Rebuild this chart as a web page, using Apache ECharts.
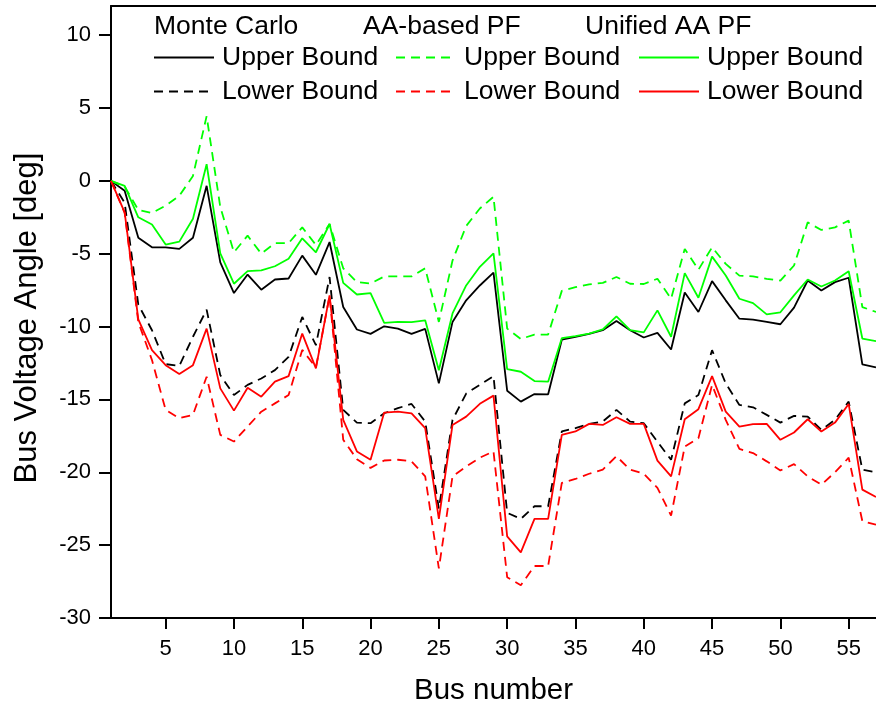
<!DOCTYPE html>
<html>
<head>
<meta charset="utf-8">
<script src="https://cdn.jsdelivr.net/npm/echarts@6/dist/echarts.min.js"></script>
<style>html,body{margin:0;padding:0;background:#fff}#c{width:876px;height:711px}</style>
</head>
<body>
<div id="c"></div>
<script>
const buses = [1,2,3,4,5,6,7,8,9,10,11,12,13,14,15,16,17,18,19,20,21,22,23,24,25,26,27,28,29,30,31,32,33,34,35,36,37,38,39,40,41,42,43,44,45,46,47,48,49,50,51,52,53,54,55,56,57];
const xTicks = [5,10,15,20,25,30,35,40,45,50,55];
const yTicks = [-30,-25,-20,-15,-10,-5,0,5,10];

const mcUpper = [0,-0.68,-3.9,-4.56,-4.56,-4.67,-3.9,-0.34,-5.6,-7.7,-6.43,-7.47,-6.77,-6.7,-5.13,-6.45,-4.2,-8.66,-10.2,-10.5,-9.98,-10.14,-10.5,-10.16,-13.9,-9.68,-8.2,-7.18,-6.3,-14.4,-15.15,-14.63,-14.65,-10.9,-10.7,-10.5,-10.25,-9.62,-10.25,-10.75,-10.43,-11.57,-7.66,-9.0,-6.88,-8.2,-9.46,-9.53,-9.68,-9.84,-8.7,-6.84,-7.52,-6.95,-6.65,-12.6,-12.8];
const mcLower = [0,-1.5,-8.5,-10.25,-12.58,-12.7,-10.7,-8.84,-13.33,-14.7,-14.0,-13.56,-12.99,-12.08,-9.34,-11.28,-6.6,-15.72,-16.59,-16.63,-15.95,-15.6,-15.31,-16.52,-22.5,-16.4,-14.6,-14.0,-13.4,-22.78,-23.2,-22.33,-22.33,-17.2,-16.97,-16.68,-16.52,-15.72,-16.52,-16.63,-17.9,-19.14,-15.27,-14.7,-11.62,-13.9,-15.38,-15.54,-16.06,-16.59,-16.13,-16.18,-17.09,-16.4,-15.15,-19.82,-20.0];
const aaUpper = [0,-0.4,-2.0,-2.2,-1.7,-1.03,0.34,4.44,-1.8,-4.9,-3.76,-5.0,-4.28,-4.28,-3.19,-4.4,-2.96,-6.0,-6.95,-7.04,-6.56,-6.56,-6.56,-6.0,-9.68,-5.47,-3.1,-1.9,-1.09,-10.14,-10.85,-10.55,-10.55,-7.55,-7.3,-7.1,-7.0,-6.6,-7.06,-7.08,-6.72,-8.09,-4.67,-6.1,-4.56,-5.7,-6.5,-6.56,-6.72,-6.84,-5.81,-2.85,-3.37,-3.19,-2.73,-8.66,-9.0];
const aaLower = [0,-2.2,-9.7,-12.3,-15.72,-16.29,-16.06,-13.44,-17.43,-17.89,-16.86,-15.84,-15.27,-14.7,-11.6,-12.8,-7.9,-17.77,-19.1,-19.7,-19.19,-19.14,-19.25,-20.28,-26.6,-20.28,-19.6,-19.0,-18.57,-27.2,-27.75,-26.43,-26.43,-20.73,-20.46,-20.1,-19.82,-18.9,-19.82,-20.1,-21.07,-22.97,-18.23,-17.66,-14.0,-16.4,-18.4,-18.68,-19.25,-19.87,-19.44,-20.28,-20.85,-20.0,-19.0,-23.35,-23.6];
const unUpper = [0,-0.34,-2.5,-3.0,-4.37,-4.17,-2.6,1.14,-4.97,-7.06,-6.2,-6.15,-5.86,-5.35,-3.94,-4.9,-2.96,-7.0,-7.8,-7.7,-9.75,-9.68,-9.7,-9.57,-13.0,-9.1,-7.18,-5.9,-4.97,-12.92,-13.1,-13.74,-13.78,-10.8,-10.66,-10.48,-10.2,-9.3,-10.25,-10.4,-8.89,-10.7,-6.33,-8.02,-5.2,-6.5,-8.09,-8.39,-9.16,-9.02,-7.86,-6.77,-7.25,-6.84,-6.2,-10.82,-11.0];
const unLower = [0,-2.17,-9.5,-11.62,-12.65,-13.26,-12.65,-10.14,-14.24,-15.77,-14.2,-14.81,-13.78,-13.4,-10.48,-12.87,-7.86,-16.4,-18.57,-19.14,-15.9,-15.84,-15.95,-16.97,-23.2,-16.75,-16.18,-15.3,-14.74,-24.4,-25.5,-23.2,-23.2,-17.43,-17.2,-16.68,-16.75,-16.22,-16.68,-16.68,-19.2,-20.28,-16.36,-15.67,-13.4,-15.84,-16.86,-16.7,-16.68,-17.77,-17.27,-16.36,-17.2,-16.59,-15.31,-21.19,-21.7];

const headers = ['Monte Carlo', 'AA-based PF', 'Unified AA PF'];
const boundLabels = ['Upper Bound', 'Lower Bound'];

const FONT = 'Liberation Sans, Arial, sans-serif';
const pair = arr => buses.map((b, i) => [b, arr[i]]);

function mk(name, arr, color, dashed) {
  return {
    name: name, type: 'line', data: pair(arr), symbol: 'none', showSymbol: false,
    clip: true, animation: false,
    lineStyle: { color: color, width: 1.8, type: dashed ? [9, 6] : 'solid' },
    itemStyle: { color: color }
  };
}

const series = [
  mk('MC Upper', mcUpper, '#000000', false),
  mk('MC Lower', mcLower, '#000000', true),
  mk('AA Upper', aaUpper, '#00ff00', true),
  mk('AA Lower', aaLower, '#ff0000', true),
  mk('UN Upper', unUpper, '#00ff00', false),
  mk('UN Lower', unLower, '#ff0000', false)
];

const legendBase = {
  orient: 'vertical', top: 44, itemWidth: 60, itemHeight: 14, itemGap: 7,
  selectedMode: false, padding: 0,
  itemStyle: { opacity: 0 },
  formatter: n => n.indexOf('Upper') >= 0 ? boundLabels[0] : boundLabels[1],
  textStyle: { fontSize: 26.5, fontFamily: FONT, color: '#000', padding: [0, 0, 0, 3] }
};

const headStyle = { fontSize: 26.5, fontWeight: 'normal', fontFamily: FONT, color: '#000' };

const chart = echarts.init(document.getElementById('c'), null, { renderer: 'canvas' });
chart.setOption({
  animation: false,
  backgroundColor: '#fff',
  title: [
    { text: headers[0], left: 154, top: 13, padding: 0, textStyle: headStyle },
    { text: headers[1], left: 363, top: 13, padding: 0, textStyle: headStyle },
    { text: headers[2], left: 585, top: 13, padding: 0, textStyle: headStyle }
  ],
  legend: [
    Object.assign({}, legendBase, { left: 153, data: ['MC Upper', 'MC Lower'] }),
    Object.assign({}, legendBase, { left: 395, data: ['AA Upper', 'AA Lower'] }),
    Object.assign({}, legendBase, { left: 638, data: ['UN Upper', 'UN Lower'] })
  ],
  grid: { left: 111, right: -9, top: 6, bottom: 92, containLabel: false },
  xAxis: [
    {
      type: 'value', min: 1, max: 57, position: 'bottom',
      name: 'Bus number', nameLocation: 'middle', nameGap: 58,
      nameTextStyle: { fontSize: 29.5, fontFamily: FONT, color: '#000' },
      axisLine: { show: true, onZero: false, lineStyle: { color: '#000', width: 2 } },
      axisTick: { show: true, customValues: xTicks, length: 11, lineStyle: { color: '#000', width: 2 } },
      axisLabel: { show: true, customValues: xTicks, fontSize: 22, fontFamily: FONT, color: '#000', margin: 20 },
      splitLine: { show: false }
    },
    {
      type: 'value', min: 1, max: 57, position: 'top',
      axisLine: { show: true, onZero: false, lineStyle: { color: '#000', width: 2 } },
      axisTick: { show: false }, axisLabel: { show: false }, splitLine: { show: false }
    }
  ],
  yAxis: {
    type: 'value', min: -30, max: 12,
    name: 'Bus Voltage Angle [deg]', nameLocation: 'middle', nameGap: 68, nameRotate: 90,
    nameTextStyle: { fontSize: 31, fontFamily: FONT, color: '#000', padding: [0, 12, 0, 0] },
    axisLine: { show: true, onZero: false, lineStyle: { color: '#000', width: 2 } },
    axisTick: { show: true, customValues: yTicks, length: 12, lineStyle: { color: '#000', width: 2 } },
    axisLabel: { show: true, customValues: yTicks, fontSize: 22, fontFamily: FONT, color: '#000', margin: 20 },
    splitLine: { show: false }
  },
  series: series
});
</script>
</body>
</html>
